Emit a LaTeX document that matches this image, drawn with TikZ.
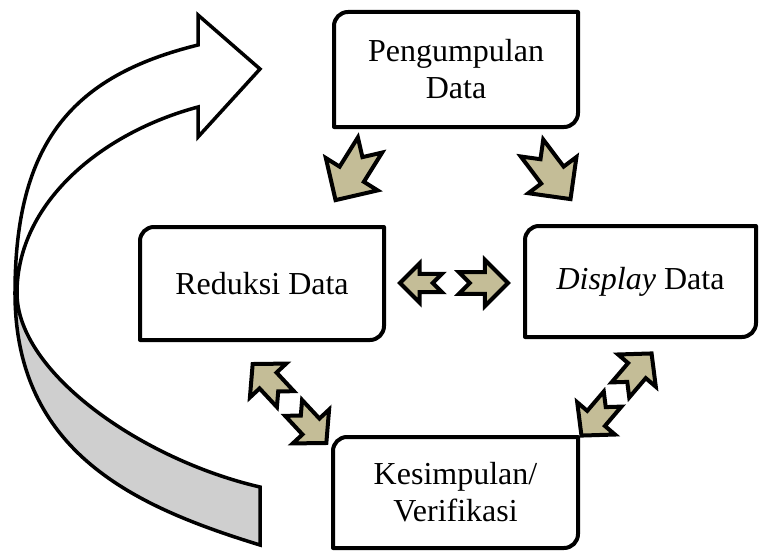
\documentclass[tikz,border=0pt]{standalone}
\usepackage{fontspec}
\setmainfont{Liberation Serif}
\usepackage{tikz}
\usetikzlibrary{calc}
\definecolor{khaki}{RGB}{196,189,151}
\definecolor{bandgray}{RGB}{207,207,207}

\tikzset{
  notcharrow/.pic={
    \draw[arrowline] (0,0.22) -- (0.53,0.22) -- (0.53,0.47) -- (1,0) -- (0.53,-0.47) -- (0.53,-0.22) -- (0,-0.22) -- (0.22,0) -- cycle;
  }
}

\begin{document}
\begin{tikzpicture}[
    x=1pt, y=1pt,
    stage/.style={inner sep=0pt, outer sep=0pt, align=center, font=\fontsize{32}{37}\selectfont},
    frame/.style={draw=black, line width=4pt, line join=round},
    arrowline/.style={draw=black, fill=khaki, line width=4pt, line join=miter},
    bandline/.style={draw=black, line width=3.5pt, line join=miter}
  ]
  \useasboundingbox (0,0) rectangle (759,550);

  % Stages
  \node[stage, minimum width=244, minimum height=115] (pengumpulan) at (456,480.5) {Pengumpulan\\Data};
  \node[stage, minimum width=244, minimum height=113] (reduksi) at (262,266.5) {Reduksi Data};
  \node[stage, minimum width=231, minimum height=111] (display) at (640.5,268.5) {\textit{Display} Data};
  \node[stage, minimum width=245, minimum height=111] (kesimpulan) at (455.5,57.5) {Kesimpulan/\\Verifikasi};

  % Frames, rounded at top left and bottom right
  \foreach \n in {pengumpulan,reduksi,display,kesimpulan} {
    \draw[frame] ([yshift=-14]\n.north west) arc[start angle=180, end angle=90, radius=14]
      -- (\n.north east) -- ([yshift=14]\n.south east) arc[start angle=0, end angle=-90, radius=14]
      -- (\n.south west) -- cycle;
  }

  % Pengumpulan down to Reduksi and Display
  \pic[rotate=238, scale=65] at ($(pengumpulan.south west)+(36,-18)$) {notcharrow};
  \pic[rotate=-53, scale=64] at ($(pengumpulan.south east)+(-46,-21)$) {notcharrow};

  % Reduksi <-> Display
  \pic[rotate=180, scale=42] at ($(reduksi.east)+(58,0.5)$) {notcharrow};
  \pic[scale=49] at ($(reduksi.east)+(75,0.5)$) {notcharrow};

  % Reduksi <-> Kesimpulan
  \begin{scope}[shift={($(reduksi.south)+(27.5,-63.5)$)}, rotate=-47, transform shape]
    \pic[scale=48, yscale=1.1] at (6,0) {notcharrow};
    \pic[rotate=180, scale=48, yscale=1.1] at (-6,0) {notcharrow};
  \end{scope}

  % Display <-> Kesimpulan
  \begin{scope}[shift={($(display.south)+(-24,-57.5)$)}, rotate=49.5, transform shape]
    \pic[scale=48, yscale=1.1] at (6,0) {notcharrow};
    \pic[rotate=180, scale=48, yscale=1.1] at (-6,0) {notcharrow};
  \end{scope}

  % Loop back: grey underside, then the front with the head
  \draw[bandline, fill=bandgray] (15,257) .. controls (15,97) and (136,43) .. (260,5)
    -- (260,63) .. controls (143,90) and (17,177) .. (17,257) -- cycle;
  \draw[bandline, fill=white] (15,257) .. controls (15,407) and (72,474) .. (198,505)
    -- (198,535) -- (260,481) -- (198,413) -- (198,443)
    .. controls (101,417) and (17,347) .. (17,257) -- cycle;

\end{tikzpicture}
\end{document}
